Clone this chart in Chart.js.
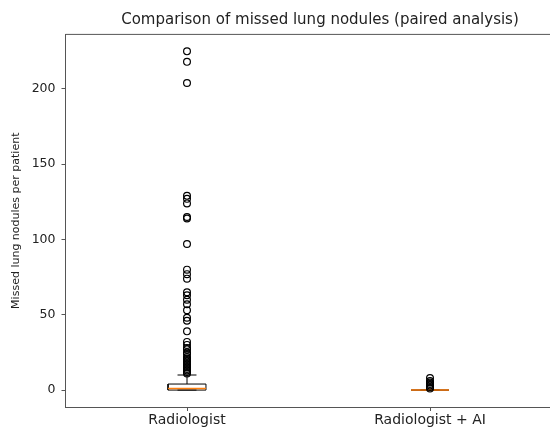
<!DOCTYPE html>
<html>
<head>
<meta charset="utf-8">
<script src="https://cdn.jsdelivr.net/npm/chart.js@4"></script>
<style>
  html, body { margin: 0; padding: 0; overflow: hidden; background: #fff; }
</style>
</head>
<body>
<canvas id="chart" width="640" height="427"></canvas>
<script>
// box plot stats
const categories = ['Radiologist', 'Radiologist + AI'];
const q1 = [0, 0];
const medians = [1, 0];
const q3 = [4, 0];
const whiskerLow = [0, 0];
const whiskerHigh = [10, 0];
const fliersRadiologist = [225, 218, 204, 129, 127, 124, 115, 114, 97, 80, 77, 74,
  65, 63, 60, 57, 53, 48, 46, 39, 32, 30, 28, 27, 25, 24, 22, 21, 20, 19, 18, 17, 16, 15, 14, 13, 12, 11];
const fliersAI = [8, 6, 5, 4, 3, 2, 1];
const yTicks = [0, 50, 100, 150, 200];

const BOX_HALF = 0.078;
const CAP_HALF = 0.039;
const GAP = pos => ({ x: pos, y: null });

const boxPts = [], whiskerPts = [], medianPts = [];
categories.forEach((c, i) => {
  const x = i + 1;
  boxPts.push({x: x - BOX_HALF, y: q1[i]}, {x: x + BOX_HALF, y: q1[i]}, {x: x + BOX_HALF, y: q3[i]},
              {x: x - BOX_HALF, y: q3[i]}, {x: x - BOX_HALF, y: q1[i]}, GAP(x));
  whiskerPts.push({x, y: q3[i]}, {x, y: whiskerHigh[i]}, GAP(x),
                  {x, y: q1[i]}, {x, y: whiskerLow[i]}, GAP(x),
                  {x: x - CAP_HALF, y: whiskerHigh[i]}, {x: x + CAP_HALF, y: whiskerHigh[i]}, GAP(x),
                  {x: x - CAP_HALF, y: whiskerLow[i]}, {x: x + CAP_HALF, y: whiskerLow[i]}, GAP(x));
  medianPts.push({x: x - BOX_HALF, y: medians[i]}, {x: x + BOX_HALF, y: medians[i]}, GAP(x));
});
const flierPts = fliersRadiologist.map(v => ({x: 1, y: v})).concat(fliersAI.map(v => ({x: 2, y: v})));

const lineDs = (data, color, width, order) => ({
  type: 'scatter', data, showLine: true, spanGaps: false, borderColor: color, borderWidth: width,
  pointRadius: 0, pointHoverRadius: 0, order
});

// top spine; the plot runs on past the window's right edge
const framePlugin = {
  id: 'frame',
  afterDatasetsDraw(chart) {
    const {ctx, chartArea: a} = chart;
    ctx.save();
    ctx.strokeStyle = '#555';
    ctx.lineWidth = 1;
    ctx.beginPath();
    ctx.moveTo(a.left, a.top); ctx.lineTo(a.right, a.top);
    ctx.stroke();
    ctx.restore();
  }
};

new Chart(document.getElementById('chart'), {
  type: 'scatter',
  data: {
    datasets: [
      { data: flierPts, pointStyle: 'circle', pointRadius: 3.4, pointHoverRadius: 3.4,
        borderColor: '#000', backgroundColor: 'rgba(0,0,0,0)', borderWidth: 1.2, order: 0 },
      lineDs(medianPts, '#ff7f0e', 1.6, 1),
      lineDs(whiskerPts, '#000', 1, 2),
      lineDs(boxPts, '#000', 1, 3)
    ]
  },
  options: {
    responsive: false,
    animation: false,
    layout: { padding: 0 },
    plugins: {
      legend: { display: false },
      tooltip: { enabled: false },
      title: {
        display: true,
        text: 'Comparison of missed lung nodules (paired analysis)',
        color: '#222',
        font: { family: 'DejaVu Sans', size: 15, weight: 'normal' },
        padding: { top: 11, bottom: 5.4 }
      }
    },
    scales: {
      x: {
        type: 'linear', min: 0.5, max: 2.6,
        afterBuildTicks: s => { s.ticks = categories.map((c, i) => ({ value: i + 1 })); },
        afterFit: s => { s.height = 20; },
        ticks: {
          callback: v => categories[v - 1] || '',
          color: '#222', padding: 1, maxRotation: 0,
          font: { family: 'DejaVu Sans', size: 14 }
        },
        grid: { drawOnChartArea: false, drawTicks: true, tickLength: 4, color: '#555' },
        border: { display: true, color: '#555', width: 1 }
      },
      y: {
        min: -11.25, max: 236.25,
        afterBuildTicks: s => { s.ticks = yTicks.map(v => ({ value: v })); },
        afterFit: s => { s.width = 65.5; },
        ticks: { color: '#222', padding: 6, font: { family: 'DejaVu Sans', size: 12.5 } },
        grid: { drawOnChartArea: false, drawTicks: true, tickLength: 4, color: '#555' },
        border: { display: true, color: '#555', width: 1 },
        title: {
          display: true, text: 'Missed lung nodules per patient', color: '#222',
          font: { family: 'DejaVu Sans', size: 11 }, padding: { top: 10, bottom: 0 }
        }
      },
      // empty right-hand axis that only reserves room past the window edge
      yRight: {
        position: 'right', min: -11.25, max: 236.25,
        afterBuildTicks: s => { s.ticks = []; },
        afterFit: s => { s.width = 64.2; },
        ticks: { display: false },
        grid: { display: false },
        border: { display: false }
      }
    }
  },
  plugins: [framePlugin]
});
</script>
</body>
</html>
